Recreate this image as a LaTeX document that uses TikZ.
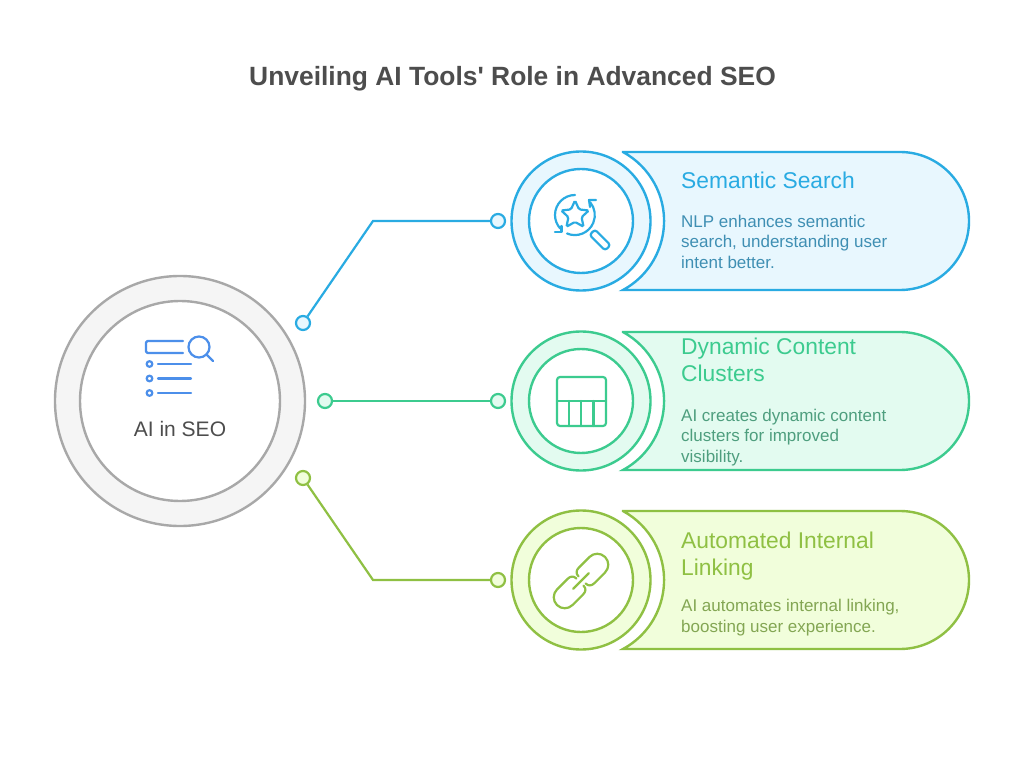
\documentclass[tikz,border=0pt]{standalone}
\usepackage{fontspec}
\setmainfont{Liberation Sans}
\usetikzlibrary{shapes.geometric}
\definecolor{semline}{HTML}{29ABE2}
\definecolor{semfill}{HTML}{E8F7FE}
\definecolor{semtext}{HTML}{3F8FB3}
\definecolor{dynline}{HTML}{3CCB8F}
\definecolor{dynfill}{HTML}{E3FBF0}
\definecolor{dyntext}{HTML}{4E9E7E}
\definecolor{autline}{HTML}{8FC043}
\definecolor{autfill}{HTML}{F1FEDB}
\definecolor{auttext}{HTML}{83A653}
\definecolor{hubline}{HTML}{A8A8A8}
\definecolor{hubfill}{HTML}{F5F5F5}
\definecolor{hubicon}{HTML}{4C8FEA}
\definecolor{inkgray}{HTML}{4D4D4D}
\tikzset{
  x=1pt,y=1pt,
  outerdisc/.style={circle,draw=#1line,fill=#1fill,line width=2.4pt,minimum size=139pt,inner sep=0pt},
  innerdisc/.style={circle,draw=#1line,fill=white,line width=2.4pt,minimum size=104pt,inner sep=0pt},
  dot/.style={circle,draw=#1line,fill=#1fill,line width=2.2pt,minimum size=14pt,inner sep=0pt},
  link/.style={draw=#1line,line width=2.2pt},
  icon/.style={draw=#1line,line width=2.2pt,line cap=round,line join=round},
  headtext/.style={anchor=base west,text=#1line,font=\fontsize{22.8}{27.5}\selectfont,align=left,inner sep=0pt},
  bodytext/.style={anchor=base west,text=#1text,font=\fontsize{17}{20.7}\selectfont,align=left,inner sep=0pt},
}
\newcommand{\Banner}[2]{
  \draw[draw=#1line,fill=#1fill,line width=2.4pt,line join=miter]
    (623,#2+69) -- (900,#2+69) arc[start angle=90,end angle=-90,radius=69]
    -- (623,#2-69) arc[start angle=-61.5,end angle=61.5,radius=78.5] -- cycle;
}
\begin{document}
\begin{tikzpicture}
  \useasboundingbox[fill=white] (0,0) rectangle (1024,761);
  \node[anchor=base,text=inkgray,font=\fontsize{26.4}{32}\selectfont\bfseries,inner sep=0pt] (title) at (512.5,675) {Unveiling AI Tools\textquotesingle{} Role in Advanced SEO};

  % hub
  \node[circle,draw=hubline,fill=hubfill,line width=2.4pt,minimum size=250pt,inner sep=0pt] (hubOuter) at (180,360) {};
  \node[circle,draw=hubline,fill=white,line width=2.4pt,minimum size=200pt,inner sep=0pt] (hubInner) at (180,360) {};
  \node[text=inkgray,font=\fontsize{21}{26}\selectfont,inner sep=0pt] (hubLabel) at (180,332) {AI in SEO};
  \draw[draw=hubicon,line width=2.2pt,line join=round,line cap=round,rounded corners=1.5pt] (183,420) -- (146,420) -- (146,408) -- (183,408);
  \draw[draw=hubicon,line width=2.2pt] (199,414) circle (10.5);
  \draw[draw=hubicon,line width=2.2pt,line cap=round] (206.5,406.5) -- (213,400);
  \foreach \yy in {397,382.5,368} {
    \draw[draw=hubicon,line width=2.2pt] (149.5,\yy) circle (2.8);
    \draw[draw=hubicon,line width=2.2pt,line cap=round] (158,\yy) -- (191,\yy);
  }

  % banners
  \Banner{sem}{540}
  \Banner{dyn}{360}
  \Banner{aut}{181}

  % circles
  \node[outerdisc=sem] (semOuter) at (581,540) {};
  \node[innerdisc=sem] (semInner) at (581,540) {};
  \node[outerdisc=dyn] (dynOuter) at (581,360) {};
  \node[innerdisc=dyn] (dynInner) at (581,360) {};
  \node[outerdisc=aut] (autOuter) at (581,181) {};
  \node[innerdisc=aut] (autInner) at (581,181) {};

  % connectors
  \node[dot=sem] (semHubDot) at (303,438) {};
  \node[dot=dyn] (dynHubDot) at (325,360) {};
  \node[dot=aut] (autHubDot) at (303,283) {};
  \node[dot=sem] (semDot) at (498,540) {};
  \node[dot=dyn] (dynDot) at (498,360) {};
  \node[dot=aut] (autDot) at (498,181) {};
  \coordinate (semBend) at (373,540);
  \coordinate (autBend) at (373,181);
  \draw[link=sem] (semHubDot) -- (semBend) -- (semDot);
  \draw[link=dyn] (dynHubDot) -- (dynDot);
  \draw[link=aut] (autHubDot) -- (autBend) -- (autDot);

  % texts
  \node[headtext=sem] (semHead) at (681,572.5) {Semantic Search};
  \node[bodytext=sem,anchor=north west] (semBody) at (681,546.5) {NLP enhances semantic\\search, understanding user\\intent better.};
  \node[headtext=dyn,anchor=north west] (dynHead) at (681,423.5) {Dynamic Content\\Clusters};
  \node[bodytext=dyn,anchor=north west] (dynBody) at (681,352.5) {AI creates dynamic content\\clusters for improved\\visibility.};
  \node[headtext=aut,anchor=north west] (autHead) at (681,229.5) {Automated Internal\\Linking};
  \node[bodytext=aut,anchor=north west] (autBody) at (681,162) {AI automates internal linking,\\boosting user experience.};

  % search icon
  \node[star,star points=5,star point ratio=2.1,draw=semline,line width=2.2pt,rounded corners=1.5pt,minimum size=29pt,inner sep=0pt] (semStar) at (575,546) {};
  \draw[icon=sem] (575,566) arc[start angle=90,end angle=222,radius=20];
  \draw[icon=sem] (555,529) -- (561.5,529) -- (561.5,535);
  \draw[icon=sem] (567,527.5) arc[start angle=247,end angle=400,radius=20];
  \draw[icon=sem] (596,561) -- (589,561) -- (590,554);
  \draw[icon=sem,rotate around={-45:(600,521)},rounded corners=2.8pt] (589,517.2) rectangle (611,524.8);

  % table icon
  \draw[icon=dyn,rounded corners=3pt] (557,384) rectangle (606,335);
  \draw[icon=dyn] (557,360) -- (606,360);
  \foreach \xx in {569,581,593.5} {
    \draw[icon=dyn] (\xx,360) -- (\xx,335);
  }

  % chain icon
  \begin{scope}[shift={(581,180)},rotate=45]
    \foreach \ang in {0,180} {
      \draw[icon=aut,rotate=\ang] (1.5,5) .. controls (1.5,9) and (4,11) .. (8,11) -- (23,11) arc[start angle=90,end angle=-90,radius=11] -- (8,-11) .. controls (4,-11) and (1.5,-9) .. (1.5,-5);
    }
    \draw[icon=aut] (-11,0) -- (11,0);
  \end{scope}
\end{tikzpicture}
\end{document}
